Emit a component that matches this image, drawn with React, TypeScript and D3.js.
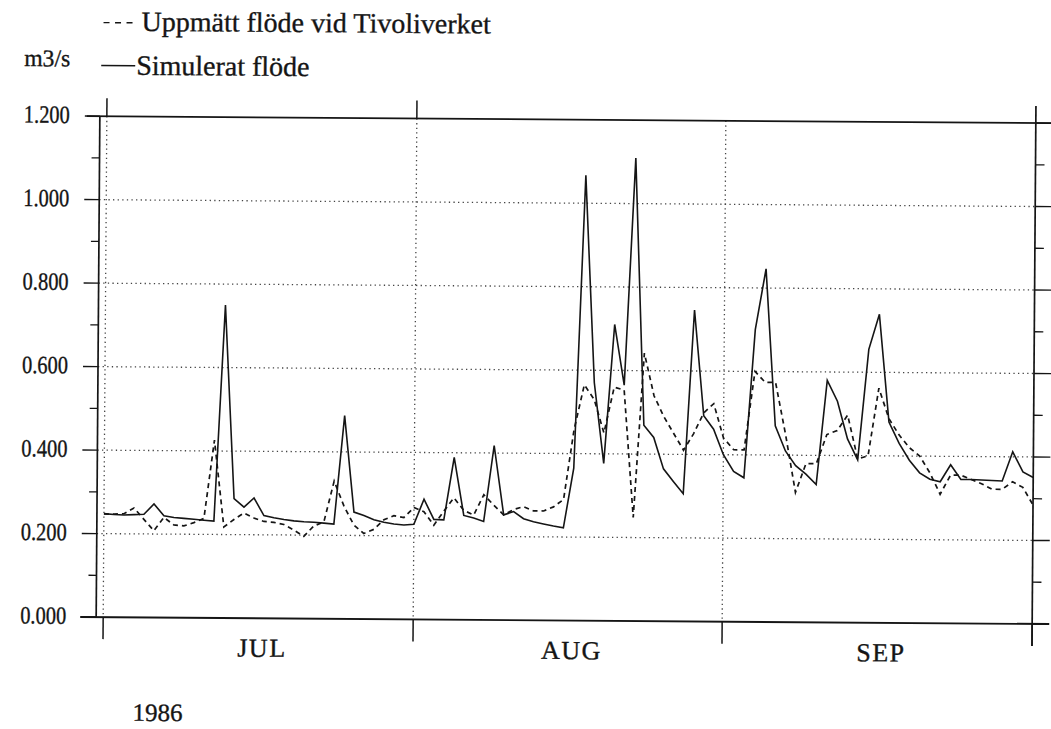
import React from 'react';
import * as d3 from 'd3';

const W = 1051;
const H = 729;

// dygnsvärden från 1 juli 1986 till 1 oktober 1986 (m3/s)
const startDate = new Date(1986, 6, 1);
const monthStarts = [new Date(1986, 6, 1), new Date(1986, 7, 1), new Date(1986, 8, 1), new Date(1986, 9, 1)];
const monthLabels = ['JUL', 'AUG', 'SEP'];
const yearLabel = '1986';
const yTicks = [0, 0.2, 0.4, 0.6, 0.8, 1.0, 1.2];
const yMinorTicks = [0.1, 0.3, 0.5, 0.7, 0.9, 1.1];

// Simulerat flöde
const simJul = [
  0.248, 0.246, 0.245, 0.246, 0.247, 0.272, 0.244, 0.240, 0.238, 0.236, 0.234,
  0.232, 0.750, 0.286, 0.266, 0.288, 0.246, 0.241, 0.237, 0.234, 0.232, 0.231,
  0.229, 0.227, 0.487, 0.256, 0.248, 0.238, 0.232, 0.228, 0.226,
];
const simAug = [
  0.228, 0.288, 0.240, 0.239, 0.389, 0.250, 0.244, 0.236, 0.418, 0.252, 0.260,
  0.243, 0.236, 0.231, 0.226, 0.222, 0.365, 1.067, 0.570, 0.377, 0.710, 0.565,
  1.109, 0.469, 0.440, 0.365, 0.335, 0.306, 0.746, 0.493, 0.461,
];
const simSep = [
  0.400, 0.360, 0.345, 0.700, 0.846, 0.470, 0.410, 0.375, 0.355, 0.330, 0.580,
  0.530, 0.440, 0.390, 0.655, 0.739, 0.481, 0.430, 0.390, 0.360, 0.345, 0.339,
  0.380, 0.345, 0.345, 0.344, 0.343, 0.342, 0.412, 0.364, 0.351,
];

// Uppmätt flöde vid Tivoliverket
const obsJul = [
  0.247, 0.247, 0.248, 0.262, 0.235, 0.208, 0.240, 0.222, 0.220, 0.228, 0.238,
  0.426, 0.218, 0.236, 0.252, 0.240, 0.232, 0.230, 0.225, 0.212, 0.197, 0.222,
  0.232, 0.330, 0.270, 0.225, 0.205, 0.215, 0.238, 0.248, 0.244,
];
const obsAug = [
  0.268, 0.258, 0.226, 0.260, 0.292, 0.262, 0.251, 0.300, 0.275, 0.252, 0.265,
  0.272, 0.262, 0.262, 0.272, 0.290, 0.457, 0.565, 0.530, 0.450, 0.560, 0.553,
  0.248, 0.642, 0.540, 0.490, 0.450, 0.410, 0.450, 0.500, 0.522,
];
const obsSep = [
  0.440, 0.412, 0.412, 0.600, 0.574, 0.574, 0.450, 0.311, 0.380, 0.380, 0.450,
  0.460, 0.497, 0.392, 0.400, 0.562, 0.489, 0.450, 0.420, 0.400, 0.360, 0.309,
  0.355, 0.355, 0.345, 0.335, 0.322, 0.322, 0.340, 0.327, 0.285,
];

const simulerat = [...simJul, ...simAug, ...simSep];
const uppmatt = [...obsJul, ...obsAug, ...obsSep];

const FONT = '"Liberation Serif", "Times New Roman", serif';
const INK = '#151515';
// scanned print looks a bit heavier than the plain font
const TEXT_WEIGHT = { fill: INK, stroke: INK, strokeWidth: 0.35 };

export default function App() {
  const left = 98;
  const right = 1034;
  const top = 119.6;
  const bottom = 620.5;

  const x = d3.scaleTime().domain(monthStarts).range([105, 415, 724, right]);
  const y = d3.scaleLinear().domain([0, 1.2]).range([bottom, top]);
  const dayX = (i: number) => x(d3.timeDay.offset(startDate, i));

  const line = d3
    .line<number>()
    .x((_, i) => dayX(i))
    .y((d) => y(d));

  const fmt = d3.format('.3f');

  return (
    <svg
      width={W}
      height={H}
      style={{ position: 'fixed', left: 0, top: 0, background: '#fff' }}
      fontFamily={FONT}
    >
      <rect width={W} height={H} fill="#fff" />
      <g transform={`rotate(0.42, 565, 370)`}>
        {/* legend */}
        <line x1={101} x2={130} y1={26} y2={26} stroke={INK} strokeWidth={1.4} strokeDasharray="6 5.5" />
        <text x={139} y={34} fontSize={28} {...TEXT_WEIGHT}>
          Uppmätt flöde vid Tivoliverket
        </text>
        <text x={22} y={70} fontSize={24} textLength={46} lengthAdjust="spacingAndGlyphs" {...TEXT_WEIGHT}>
          m3/s
        </text>
        <line x1={99} x2={133} y1={69} y2={69} stroke={INK} strokeWidth={1.5} />
        <text x={134} y={78} fontSize={28} {...TEXT_WEIGHT}>
          Simulerat flöde
        </text>

        {/* horizontal dotted grid */}
        {yTicks
          .filter((t) => t > 0 && t < 1.2)
          .map((t) => (
            <line
              key={`hg${t}`}
              x1={left}
              x2={right}
              y1={y(t)}
              y2={y(t)}
              stroke="#444"
              strokeWidth={1.3}
              strokeDasharray="1.3 3.3"
            />
          ))}
        {/* vertical dotted grid */}
        {monthStarts.slice(0, 3).map((d, i) => (
          <line
            key={`vg${i}`}
            x1={x(d)}
            x2={x(d)}
            y1={top}
            y2={bottom}
            stroke="#444"
            strokeWidth={1.3}
            strokeDasharray="1.3 3.3"
          />
        ))}

        {/* frame */}
        <line x1={85} x2={W} y1={top} y2={top} stroke={INK} strokeWidth={1.7} />
        <line x1={82} x2={W} y1={bottom} y2={bottom} stroke={INK} strokeWidth={1.9} />
        <line x1={left} x2={left} y1={top} y2={bottom} stroke={INK} strokeWidth={1.7} />
        <line x1={right} x2={right} y1={top - 17} y2={bottom + 22} stroke={INK} strokeWidth={1.7} />

        {/* y ticks left + right */}
        {yTicks.map((t) => (
          <g key={`yt${t}`}>
            <line x1={left - 15} x2={left} y1={y(t)} y2={y(t)} stroke={INK} strokeWidth={1.4} />
            <line x1={right} x2={right + 17} y1={y(t)} y2={y(t)} stroke={INK} strokeWidth={1.4} />
            <text
              x={22}
              y={y(t) + 7}
              fontSize={25}
              textLength={46}
              lengthAdjust="spacingAndGlyphs"
              {...TEXT_WEIGHT}
            >
              {fmt(t)}
            </text>
          </g>
        ))}
        {yMinorTicks.map((t) => (
          <g key={`ym${t}`}>
            <line x1={left - 8} x2={left} y1={y(t)} y2={y(t)} stroke={INK} strokeWidth={1.3} />
            <line x1={right} x2={right + 9} y1={y(t)} y2={y(t)} stroke={INK} strokeWidth={1.3} />
          </g>
        ))}

        {/* x ticks: month boundaries */}
        {monthStarts.map((d, i) => (
          <g key={`xt${i}`}>
            <line x1={x(d)} x2={x(d)} y1={bottom} y2={bottom + 22} stroke={INK} strokeWidth={1.5} />
            {i < 2 && <line x1={x(d)} x2={x(d)} y1={top - 18} y2={top} stroke={INK} strokeWidth={1.5} />}
          </g>
        ))}
        {monthLabels.map((m, i) => (
          <text
            key={m}
            x={(x(monthStarts[i]) + x(monthStarts[i + 1])) / 2 + 4}
            y={659}
            fontSize={26}
            letterSpacing={1.5}
            textAnchor="middle"
            {...TEXT_WEIGHT}
          >
            {m}
          </text>
        ))}
        <text x={135} y={724} fontSize={25} {...TEXT_WEIGHT}>
          {yearLabel}
        </text>

        {/* series */}
        <path d={line(uppmatt) ?? ''} fill="none" stroke={INK} strokeWidth={1.7} strokeDasharray="5 4" />
        <path d={line(simulerat) ?? ''} fill="none" stroke={INK} strokeWidth={1.6} />
      </g>
    </svg>
  );
}
